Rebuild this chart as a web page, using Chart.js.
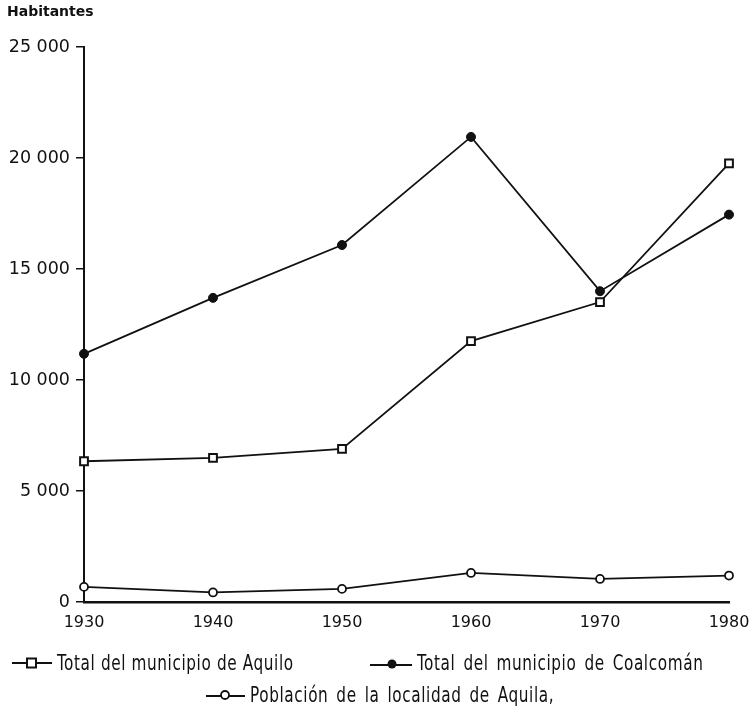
<!DOCTYPE html>
<html>
<head>
<meta charset="utf-8">
<script src="https://cdn.jsdelivr.net/npm/chart.js@4.4.1/dist/chart.umd.min.js"></script>
<style>
  html, body { margin: 0; padding: 0; background: #fff; }
  #wrap { position: relative; width: 751px; height: 711px; }
  #title {
    position: absolute; left: 7px; top: 3px;
    font: bold 14px 'DejaVu Sans', sans-serif; color: #111;
  }
  .leg {
    position: absolute; display: flex; align-items: center;
    font: 17px 'DejaVu Sans Condensed', 'Liberation Sans Narrow', sans-serif;
    letter-spacing: 0.6px; color: #111; white-space: nowrap;
  }
  .leg span { display: inline-block; transform: scaleY(1.2); }
  .leg svg { margin-right: 5px; }
  .wide { word-spacing: 2.5px; }
</style>
</head>
<body>
<div id="wrap">
  <canvas id="poblacion" width="751" height="711"></canvas>
  <div id="title">Habitantes</div>
  <div class="leg" style="left:12px; top:653px;">
    <svg width="40" height="14"><line x1="0" y1="7" x2="40" y2="7" stroke="#111" stroke-width="2"/><rect x="15" y="2.5" width="9" height="9" fill="#fff" stroke="#111" stroke-width="2"/></svg>
    <span>Total del municipio de Aquilo</span>
  </div>
  <div class="leg" style="left:370px; top:653px;">
    <svg width="42" height="14"><line x1="0" y1="9" x2="42" y2="9" stroke="#111" stroke-width="2"/><circle cx="22" cy="8" r="4.5" fill="#111"/></svg>
    <span class="wide">Total del municipio de Coalcomán</span>
  </div>
  <div class="leg" style="left:206px; top:685px;">
    <svg width="39" height="14"><line x1="0" y1="8" x2="39" y2="8" stroke="#111" stroke-width="2"/><circle cx="19" cy="7" r="4" fill="#fff" stroke="#111" stroke-width="1.8"/></svg>
    <span class="wide">Población de la localidad de Aquila,</span>
  </div>
</div>
<script>
// census years
const years = ['1930', '1940', '1950', '1960', '1970', '1980']

// inhabitants per series
const aquilo = [6340, 6490, 6900, 11750, 13510, 19760]
const coalcoman = [11180, 13700, 16080, 20950, 14000, 17450]
const localidadAquila = [680, 430, 590, 1310, 1040, 1190]

// y axis ticks
const yTicks = [0, 5000, 10000, 15000, 20000, 25000]

const ink = '#111'

// "25 000" style thousands
const formatMiles = (value) => String(value).replace(/\B(?=(\d{3})+(?!\d))/g, ' ')

new Chart(document.getElementById('poblacion'), {
  type: 'line',
  data: {
    labels: years,
    datasets: [
      {
        label: 'Total del municipio de Aquilo',
        data: aquilo,
        borderColor: ink,
        borderWidth: 1.8,
        pointStyle: 'rect',
        pointRadius: 5.5,
        pointBackgroundColor: '#fff',
        pointBorderColor: ink,
        pointBorderWidth: 2,
        clip: false
      },
      {
        label: 'Total del municipio de Coalcomán',
        data: coalcoman,
        borderColor: ink,
        borderWidth: 1.8,
        pointStyle: 'circle',
        pointRadius: 4.5,
        pointBackgroundColor: ink,
        pointBorderColor: ink,
        pointBorderWidth: 1,
        clip: false
      },
      {
        label: 'Población de la localidad de Aquila',
        data: localidadAquila,
        borderColor: ink,
        borderWidth: 1.8,
        pointStyle: 'circle',
        pointRadius: 4,
        pointBackgroundColor: '#fff',
        pointBorderColor: ink,
        pointBorderWidth: 1.8,
        clip: false
      }
    ]
  },
  options: {
    responsive: false,
    animation: false,
    layout: {
      padding: { left: 0, top: 47, right: 22, bottom: 0 }
    },
    scales: {
      x: {
        offset: false,
        grid: { drawOnChartArea: false, drawTicks: false },
        border: { color: ink, width: 2.5 },
        ticks: {
          color: ink,
          padding: 11,
          maxRotation: 0,
          font: { family: 'DejaVu Sans', size: 16 }
        },
        afterFit: (scale) => {
          scale.height = 109
          scale.paddingLeft = 0
          scale.paddingRight = 0
        }
      },
      y: {
        min: 0,
        max: 25000,
        afterBuildTicks: (scale) => {
          scale.ticks = yTicks.map((v) => ({ value: v }))
        },
        grid: {
          drawOnChartArea: false,
          drawTicks: true,
          tickLength: 8,
          color: ink,
          lineWidth: 1.5
        },
        border: { color: ink, width: 2 },
        ticks: {
          color: ink,
          padding: 6,
          font: { family: 'DejaVu Sans', size: 17.5 },
          callback: (value) => formatMiles(value)
        },
        afterFit: (scale) => { scale.width = 84 }
      }
    },
    plugins: {
      legend: { display: false },
      tooltip: { enabled: false }
    }
  }
})
</script>
</body>
</html>
